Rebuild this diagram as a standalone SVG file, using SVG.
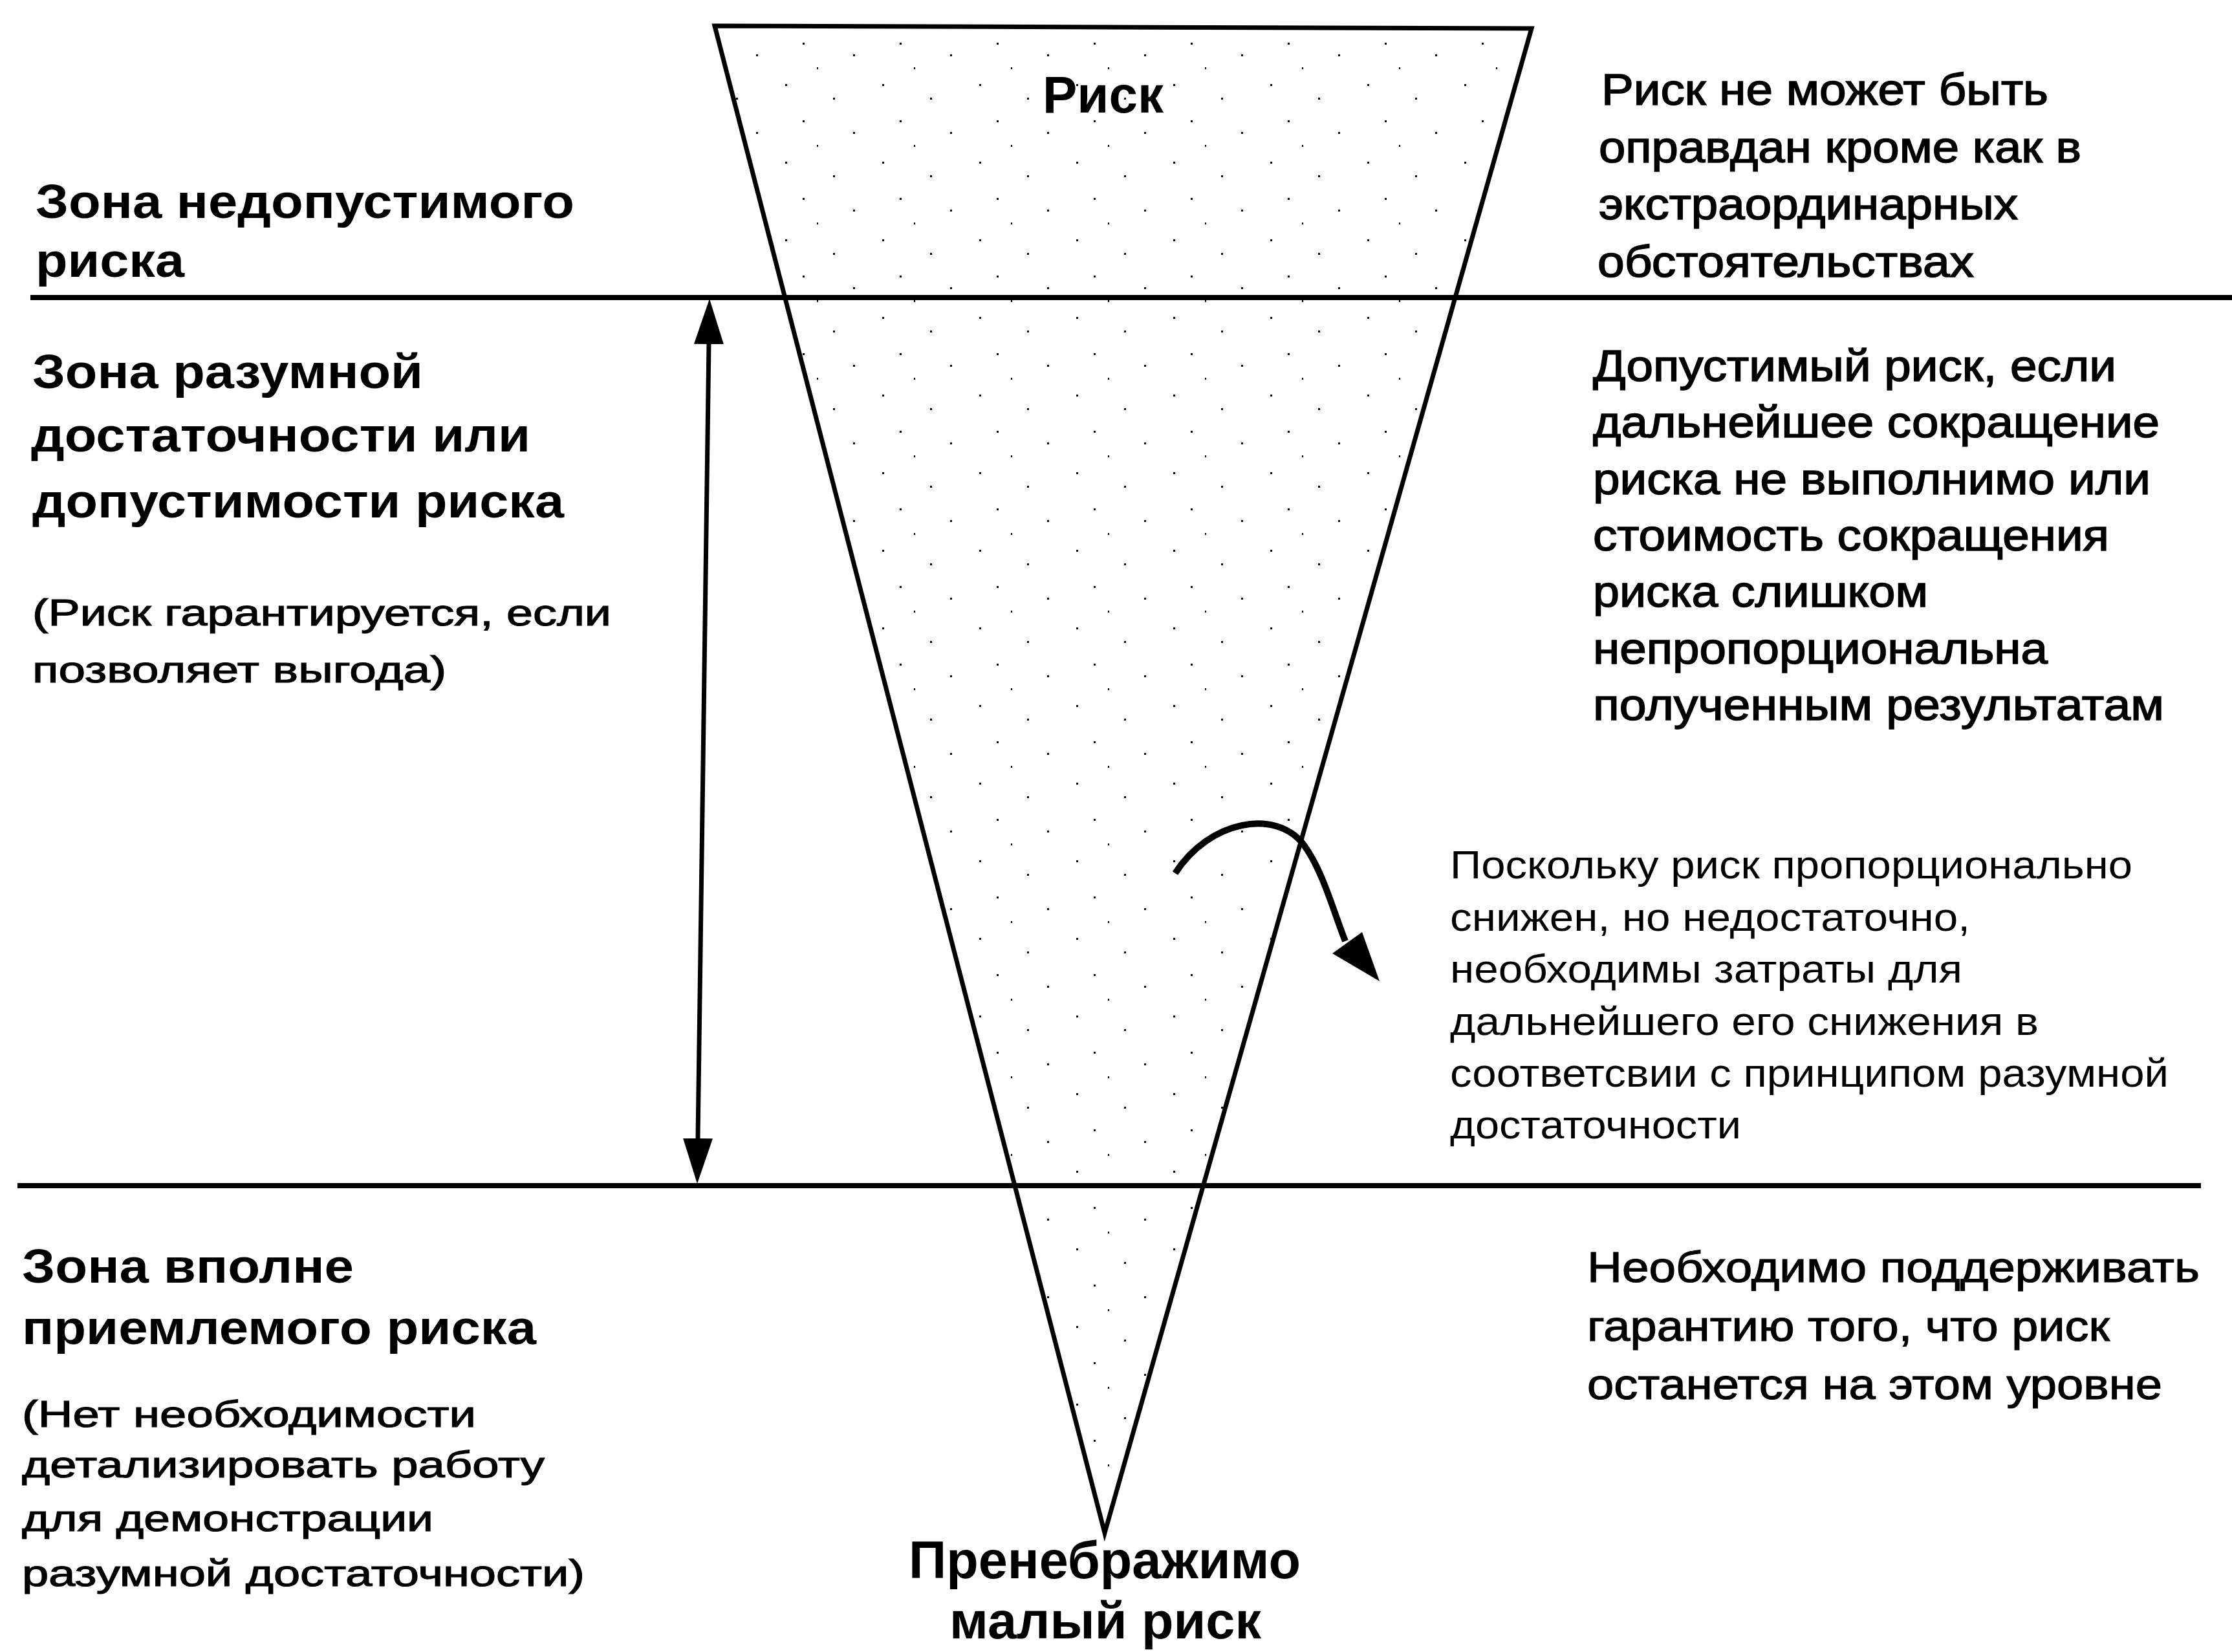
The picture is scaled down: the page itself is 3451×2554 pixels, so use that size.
<svg xmlns="http://www.w3.org/2000/svg" width="3451" height="2554" viewBox="0 0 3451 2554">
<style>
text{font-family:"Liberation Sans",Arial,sans-serif;fill:#000}
.h{font-weight:bold;font-size:74px}
.c{font-weight:bold;font-size:80px}
.n{font-size:57px;stroke:#000;stroke-width:1.2px}
.r{font-size:69px;stroke:#000;stroke-width:1.6px}
.p{font-size:61px}
.q{font-size:66px;stroke:#000;stroke-width:1.2px}
.zl{stroke:#000;stroke-width:8;fill:none}
.edge{stroke:#000;stroke-width:7;fill:url(#stipple);stroke-linejoin:miter}
.conn{stroke:#000;stroke-width:7;fill:none}
</style>
<defs>
<pattern id="stipple" patternUnits="userSpaceOnUse" width="150" height="120">
<rect width="150" height="120" fill="#fff"/>
<rect x="14" y="10" width="3" height="3" fill="#000"/>
<rect x="88" y="31" width="3" height="3" fill="#000"/>
<rect x="41" y="66" width="3" height="3" fill="#000"/>
<rect x="119" y="84" width="3" height="3" fill="#000"/>
<rect x="63" y="104" width="2" height="3" fill="#000"/>
</pattern>
<marker id="ah" markerUnits="userSpaceOnUse" viewBox="0 0 70 46" refX="0" refY="23" markerWidth="70" markerHeight="46" orient="auto-start-reverse">
<path d="M0,0 L70,23 L0,46 Z" fill="#000"/>
</marker>
</defs>
<rect width="3451" height="2554" fill="#fff"/>

<g id="risk-triangle">
<path class="edge" d="M1105,40 L2368,44 L1708,2370 Z"/>
<text class="c" x="1612" y="174" textLength="187" lengthAdjust="spacingAndGlyphs">Риск</text>
</g>

<g id="zone-lines">
<line class="zl" x1="47" y1="460" x2="3451" y2="460"/>
<line class="zl" x1="27" y1="1833" x2="3403" y2="1833"/>
</g>

<g id="connectors">
<line class="conn" x1="1096" y1="532" x2="1079" y2="1760" marker-start="url(#ah)" marker-end="url(#ah)"/>
<path class="conn" style="stroke-width:10" d="M1817,1350 C1870,1268 1972,1250 2015,1305 C2045,1345 2062,1410 2080,1455"/>
<polygon points="2133,1517 2060,1474 2106,1441" fill="#000"/>
</g>

<g id="zone-unacceptable">
<text class="h" x="55" y="337" textLength="833" lengthAdjust="spacingAndGlyphs">Зона недопустимого</text>
<text class="h" x="55" y="428" textLength="230" lengthAdjust="spacingAndGlyphs">риска</text>
</g>

<g id="zone-unacceptable-note">
<text class="r" x="2476" y="162" textLength="691" lengthAdjust="spacingAndGlyphs">Риск не может быть</text>
<text class="r" x="2472" y="251" textLength="746" lengthAdjust="spacingAndGlyphs">оправдан кроме как в</text>
<text class="r" x="2472" y="339" textLength="648" lengthAdjust="spacingAndGlyphs">экстраординарных</text>
<text class="r" x="2470" y="428" textLength="582" lengthAdjust="spacingAndGlyphs">обстоятельствах</text>
</g>

<g id="zone-alarp">
<text class="h" x="50" y="600" textLength="604" lengthAdjust="spacingAndGlyphs">Зона разумной</text>
<text class="h" x="48" y="698" textLength="772" lengthAdjust="spacingAndGlyphs">достаточности или</text>
<text class="h" x="50" y="800" textLength="822" lengthAdjust="spacingAndGlyphs">допустимости риска</text>
<text class="n" x="50" y="967" textLength="895" lengthAdjust="spacingAndGlyphs">(Риск гарантируется, если</text>
<text class="n" x="50" y="1055" textLength="640" lengthAdjust="spacingAndGlyphs">позволяет выгода)</text>
</g>

<g id="zone-alarp-note">
<text class="r" x="2463" y="589" textLength="809" lengthAdjust="spacingAndGlyphs">Допустимый риск, если</text>
<text class="r" x="2463" y="676" textLength="876" lengthAdjust="spacingAndGlyphs">дальнейшее сокращение</text>
<text class="r" x="2463" y="764" textLength="862" lengthAdjust="spacingAndGlyphs">риска не выполнимо или</text>
<text class="r" x="2463" y="851" textLength="798" lengthAdjust="spacingAndGlyphs">стоимость сокращения</text>
<text class="r" x="2463" y="938" textLength="518" lengthAdjust="spacingAndGlyphs">риска слишком</text>
<text class="r" x="2463" y="1026" textLength="703" lengthAdjust="spacingAndGlyphs">непропорциональна</text>
<text class="r" x="2463" y="1113" textLength="883" lengthAdjust="spacingAndGlyphs">полученным результатам</text>
</g>

<g id="arrow-note">
<text class="p" x="2242" y="1358" textLength="1055" lengthAdjust="spacingAndGlyphs">Поскольку риск пропорционально</text>
<text class="p" x="2242" y="1439" textLength="804" lengthAdjust="spacingAndGlyphs">снижен, но недостаточно,</text>
<text class="p" x="2242" y="1519" textLength="792" lengthAdjust="spacingAndGlyphs">необходимы затраты для</text>
<text class="p" x="2242" y="1600" textLength="910" lengthAdjust="spacingAndGlyphs">дальнейшего его снижения в</text>
<text class="p" x="2242" y="1680" textLength="1111" lengthAdjust="spacingAndGlyphs">соответсвии с принципом разумной</text>
<text class="p" x="2242" y="1760" textLength="450" lengthAdjust="spacingAndGlyphs">достаточности</text>
</g>

<g id="zone-acceptable">
<text class="h" x="34" y="1983" textLength="513" lengthAdjust="spacingAndGlyphs">Зона вполне</text>
<text class="h" x="34" y="2078" textLength="795" lengthAdjust="spacingAndGlyphs">приемлемого риска</text>
<text class="n" x="34" y="2206" textLength="702" lengthAdjust="spacingAndGlyphs">(Нет необходимости</text>
<text class="n" x="34" y="2284" textLength="808" lengthAdjust="spacingAndGlyphs">детализировать работу</text>
<text class="n" x="34" y="2367" textLength="636" lengthAdjust="spacingAndGlyphs">для демонстрации</text>
<text class="n" x="34" y="2452" textLength="870" lengthAdjust="spacingAndGlyphs">разумной достаточности)</text>
</g>

<g id="zone-acceptable-note">
<text class="q" x="2454" y="1982" textLength="947" lengthAdjust="spacingAndGlyphs">Необходимо поддерживать</text>
<text class="q" x="2454" y="2073" textLength="808" lengthAdjust="spacingAndGlyphs">гарантию того, что риск</text>
<text class="q" x="2454" y="2163" textLength="889" lengthAdjust="spacingAndGlyphs">останется на этом уровне</text>
</g>

<g id="negligible-risk">
<text class="c" x="1405" y="2440" style="font-size:82px" textLength="606" lengthAdjust="spacingAndGlyphs">Пренебражимо</text>
<text class="c" x="1468" y="2533" style="font-size:80px" textLength="482" lengthAdjust="spacingAndGlyphs">малый риск</text>
</g>
</svg>
